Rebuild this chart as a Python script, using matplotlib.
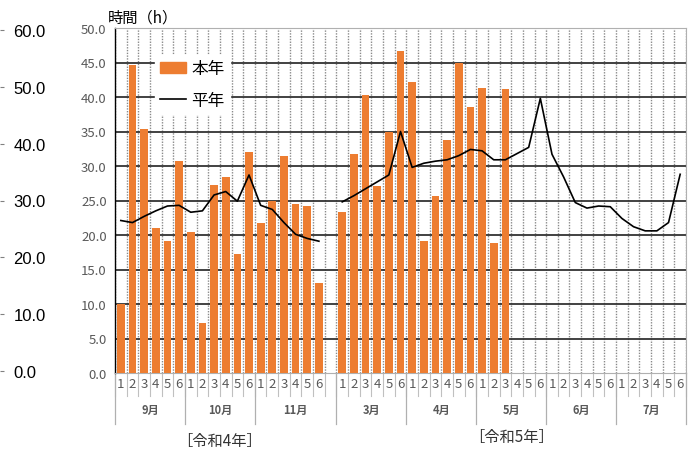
import matplotlib.pyplot as plt
import matplotlib.transforms as mtransforms
from matplotlib.patches import Patch
from matplotlib.lines import Line2D
import numpy as np

plt.rcParams['font.family'] = ['Noto Sans CJK JP', 'DejaVu Sans']

# 半旬ごとの日照時間
r4_months = ['9月', '10月', '11月']
r5_months = ['3月', '4月', '5月', '6月', '7月']
periods = ['1', '2', '3', '4', '5', '6']

r4_this = [10.0, 44.6, 35.4, 21.0, 19.1, 30.7,
           20.4, 7.2, 27.2, 28.4, 17.2, 32.0,
           21.8, 25.0, 31.4, 24.5, 24.2, 13.0]
r5_this = [23.4, 31.7, 40.3, 27.1, 34.9, 46.7,
           42.2, 19.2, 25.7, 33.7, 45.0, 38.6,
           41.3, 18.8, 41.2]

r4_normal = [22.1, 21.8, 22.7, 23.5, 24.2, 24.3,
             23.3, 23.5, 25.8, 26.3, 24.9, 28.7,
             24.3, 23.7, 21.8, 20.1, 19.5, 19.1]
r5_normal = [24.8, 25.7, 26.7, 27.7, 28.7, 35.0,
             29.8, 30.4, 30.7, 30.9, 31.5, 32.4,
             32.2, 30.9, 30.9, 31.8, 32.7, 39.8,
             31.7, 28.4, 24.7, 23.9, 24.2, 24.1,
             22.4, 21.2, 20.6, 20.6, 21.8, 28.8]

orange = '#ED7D31'
gray = '#595959'

n4 = len(r4_months) * 6
n5 = len(r5_months) * 6
x4 = np.arange(n4)
x5 = np.arange(n5) + n4 + 1          # one blank slot between the years
nslot = n4 + 1 + n5

fig = plt.figure(figsize=(6.91, 4.52), dpi=100)
ax = fig.add_axes([115/691, 1-374/452, 571/691, 345/452])

ax.bar(x4, r4_this, width=0.66, color=orange, zorder=3)
ax.bar(x5[:len(r5_this)], r5_this, width=0.66, color=orange, zorder=3)
ax.plot(x4, r4_normal, color='black', lw=1.2, zorder=4)
ax.plot(x5, r5_normal, color='black', lw=1.2, zorder=4)

ax.set_xlim(-0.5, nslot - 0.5)
ax.set_ylim(0, 50)
ax.set_yticks(np.arange(0, 50.1, 5))
ax.set_yticklabels(['%.1f' % v for v in np.arange(0, 50.1, 5)],
                   fontsize=9.5, color=gray)
ax.tick_params(axis='y', length=0, pad=6)

# grid
for v in np.arange(5, 50, 5):
    ax.axhline(v, color='#333333', lw=1.3, zorder=2)
for b in np.arange(nslot + 1) - 0.5:
    ax.axvline(b, color='#8a8a8a', lw=1.0, ls=(0, (1, 1)), zorder=1)
for s in ['top', 'right', 'bottom']:
    ax.spines[s].set_color('#b0b0b0')
    ax.spines[s].set_linewidth(0.8)
ax.spines['left'].set_color('black')
ax.spines['left'].set_linewidth(1.0)

# x axis: period numbers, month labels, separators
ticks = list(x4) + list(x5)
ax.set_xticks(ticks)
ax.set_xticklabels(periods * (len(r4_months) + len(r5_months)),
                   fontsize=9.5, color=gray)
ax.tick_params(axis='x', length=0, pad=3)

trans = mtransforms.blended_transform_factory(ax.transData, ax.transAxes)
for b in np.arange(nslot + 1) - 0.5:
    ax.plot([b, b], [0, -0.067], transform=trans, color='#c0c0c0',
            lw=0.8, clip_on=False)

bounds = [-0.5]
centers = []
for i, m in enumerate(r4_months):
    lo = i * 6 - 0.5
    hi = lo + 6 + (1 if i == len(r4_months) - 1 else 0)
    bounds.append(hi)
    centers.append(((lo + hi) / 2, m))
for i, m in enumerate(r5_months):
    lo = n4 + 1 + i * 6 - 0.5
    hi = lo + 6
    bounds.append(hi)
    centers.append(((lo + hi) / 2, m))
for b in bounds:
    ax.plot([b, b], [0, -0.148], transform=trans, color='#b0b0b0',
            lw=0.9, clip_on=False)
for c, m in centers:
    ax.text(c, -0.105, m, transform=trans, ha='center', va='center',
            fontsize=8, color=gray, fontweight='bold')

ax.text((bounds[0] + bounds[3]) / 2 - 0.5, -0.195, '［令和4年］', transform=trans,
        ha='center', va='center', fontsize=11, color='#333333')
ax.text((bounds[3] + bounds[-1]) / 2, -0.183, '［令和5年］', transform=trans,
        ha='center', va='center', fontsize=11, color='#333333')

fig.text(108/691, 1-18/452, '時間（h）', ha='left', va='center',
         fontsize=11, color='black')

handles = [Patch(color=orange), Line2D([], [], color='black', lw=1.2)]
leg = ax.legend(handles, ['本年', '平年'], loc='upper left',
                bbox_to_anchor=(0.055, 0.945), fontsize=12, frameon=True,
                fancybox=False, edgecolor='white', framealpha=1,
                handlelength=1.6, handletextpad=0.3, labelspacing=0.9,
                borderpad=0.3)
leg.set_zorder(5)

# stray axis at the far left
ax2 = fig.add_axes([3/691, 1-372/452, 0.001, 341/452])
ax2.set_ylim(0, 60)
ax2.set_yticks(np.arange(0, 61, 10))
ax2.set_yticklabels(['%.1f' % v for v in np.arange(0, 61, 10)],
                    fontsize=12, family='Liberation Sans', color='black')
ax2.yaxis.tick_right()
ax2.tick_params(axis='y', direction='in', length=3, color='#808080', pad=7)
ax2.set_xticks([])
for s in ax2.spines.values():
    s.set_visible(False)
ax2.patch.set_visible(False)

fig.savefig('out.png', dpi=100)
